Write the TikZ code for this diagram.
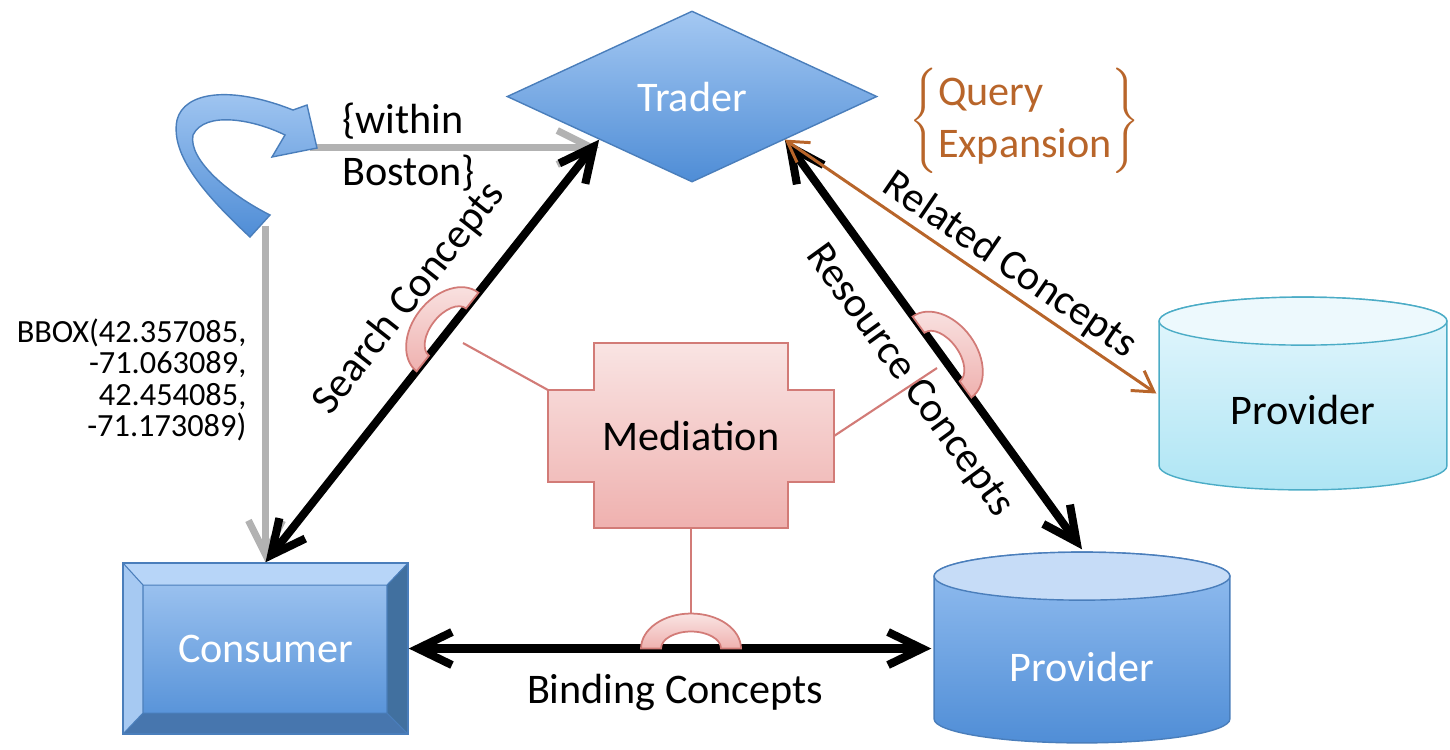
\documentclass[tikz,border=0pt]{standalone}
\usepackage{fontspec}
\setmainfont{Carlito}
\usetikzlibrary{positioning, shapes.geometric, arrows.meta, calc}

\definecolor{blueedge}{HTML}{4A7EBB}
\definecolor{bluetop}{HTML}{A4C8F2}
\definecolor{bluebot}{HTML}{4F8DD6}
\definecolor{bvtop}{HTML}{B7D5F8}
\definecolor{bvleft}{HTML}{A6C9F2}
\definecolor{bvright}{HTML}{41709F}
\definecolor{bvbot}{HTML}{4776AE}
\definecolor{drumtop}{HTML}{96C0F1}
\definecolor{drumlid}{HTML}{C6DCF7}
\definecolor{cyanedge}{HTML}{4BACC6}
\definecolor{cyantop}{HTML}{E6F7FD}
\definecolor{cyanbot}{HTML}{AEE5F4}
\definecolor{cyanlid}{HTML}{EDF9FD}
\definecolor{pinkedge}{HTML}{D27B77}
\definecolor{pinktop}{HTML}{F9E4E3}
\definecolor{pinkbot}{HTML}{EFB1AF}
\definecolor{arrowgray}{HTML}{B2B2B2}
\definecolor{qbrown}{HTML}{B8652A}

% database drum: edge, body top, body bottom, lid
\tikzset{drum/.style n args={4}{minimum width=3cm, minimum height=1.95cm,
  path picture={%
    \draw[#1, top color=#2, bottom color=#3] let
      \p1 = (path picture bounding box.north west),
      \p2 = (path picture bounding box.south east),
      \n1 = {(\x2-\x1)/2-0.6pt}, \n2 = {0.24cm}
      in
        (\x1+0.6pt,\y1-\n2-0.6pt) -- (\x1+0.6pt,\y2+\n2+0.6pt)
        arc[start angle=180, end angle=360, x radius=\n1, y radius=\n2]
        -- (\x2-0.6pt,\y1-\n2-0.6pt)
        arc[start angle=0, end angle=180, x radius=\n1, y radius=\n2];
    \draw[#1, fill=#4] let
      \p1 = (path picture bounding box.north west),
      \p2 = (path picture bounding box.south east),
      \n1 = {(\x2-\x1)/2-0.6pt}, \n2 = {0.24cm}
      in
        (\x1/2+\x2/2,\y1-\n2-0.6pt) ellipse[x radius=\n1, y radius=\n2];
  }}}

\tikzstyle{bevelbox}=[rectangle, draw=blueedge, top color=bluetop, bottom color=bluebot,
  minimum width=2.85cm, minimum height=1.71cm, text=white,
  path picture={%
    \coordinate (o1) at (path picture bounding box.north west);
    \coordinate (o2) at (path picture bounding box.north east);
    \coordinate (o3) at (path picture bounding box.south east);
    \coordinate (o4) at (path picture bounding box.south west);
    \coordinate (i1) at ($(o1)+(0.2,-0.22)$);
    \coordinate (i2) at ($(o2)+(-0.21,-0.22)$);
    \coordinate (i3) at ($(o3)+(-0.21,0.21)$);
    \coordinate (i4) at ($(o4)+(0.2,0.21)$);
    \fill[bvtop] (o1) -- (o2) -- (i2) -- (i1) -- cycle;
    \fill[bvright] (o2) -- (o3) -- (i3) -- (i2) -- cycle;
    \fill[bvbot] (o3) -- (o4) -- (i4) -- (i3) -- cycle;
    \fill[bvleft] (o4) -- (o1) -- (i1) -- (i4) -- cycle;
    \draw[blueedge, line width=0.3pt] (o1) -- (i1) (o2) -- (i2) (o3) -- (i3) (o4) -- (i4) (i1) rectangle (i3);
  }]

\tikzset{socket/.pic={
  \draw[pinkedge, line width=0.5pt, top color=pinktop, bottom color=pinkbot]
    (0.5,0) arc[start angle=0, end angle=180, x radius=0.5, y radius=0.35]
    -- (-0.3,0) arc[start angle=180, end angle=0, x radius=0.3, y radius=0.17] -- cycle;
}}

\begin{document}
\begin{tikzpicture}[font=\fontsize{12}{14.8}\selectfont,
    conc/.style={<->, >={Straight Barb[length=3.4mm, width=3.3mm]}, line width=2.3pt, line cap=round},
    feed/.style={->, >={Straight Barb[length=3.4mm, width=3.4mm]}, line width=2pt, arrowgray},
    rel/.style={<->, >={Straight Barb[length=2mm, width=2.4mm]}, line width=0.85pt, qbrown},
    hook/.style={pinkedge, line width=0.6pt},
    lbl/.style={inner sep=1pt, text=black}]
        \useasboundingbox (0,0) rectangle (14.5,-7.49);

        % TRADER
        \node[diamond, aspect=2.16, minimum width=3.7cm, minimum height=1.71cm, inner sep=0pt,
              draw=blueedge, top color=bluetop, bottom color=bluebot, text=white] (trader) at (6.92,-0.965) {Trader};

        % CONSUMER
        \node[bevelbox] (consumer) at (2.655,-6.485) {Consumer};

        % PROVIDERS
        \node[drum={blueedge}{drumtop}{bluebot}{drumlid},
              label={[text=white, yshift=-1.9mm]center:Provider}] (prov) at (10.82,-6.475) {};
        \node[drum={cyanedge}{cyantop}{cyanbot}{cyanlid}, minimum width=2.92cm, minimum height=1.97cm,
              label={[yshift=-1.65mm]center:Provider}] (extprov) at (13.03,-3.935) {};

        % notes
        \node[text=qbrown] (qexp) at (10.25,-1.21)
          {$\left\{\begin{tabular}{@{}l@{}}Query\\Expansion\end{tabular}\right\}$};
        \node[font=\fontsize{9.2}{8.9}\selectfont, align=right, inner sep=0pt, anchor=east] (bbox)
          at (2.47,-3.80) {BBOX(42.357085,\\-71.063089,\\42.454085,\\-71.173089)};

        \coordinate (turntip) at (3.10,-1.475);
        \coordinate (turntail) at (2.655,-2.26);

        % query feed
        \path[feed]
        (turntip) edge node[lbl, pos=0.10, anchor=west, align=left, inner sep=0pt] {\{within\\Boston\}} (turntip -| trader.south west)
        (turntail) edge (consumer.north);

        % turn arrow
        \draw[blueedge, line width=0.4pt, top color=bluetop, bottom color=bluebot]
          (2.50,-2.37) .. controls (2.05,-1.95) and (1.70,-1.55) .. (1.77,-1.20)
          .. controls (1.84,-0.92) and (2.30,-0.85) .. (2.93,-1.10)
          -- (3.07,-1.05) -- (3.17,-1.48) -- (2.72,-1.57) -- (2.85,-1.35)
          .. controls (2.55,-1.20) and (2.05,-1.10) .. (1.93,-1.35)
          .. controls (1.88,-1.60) and (2.30,-1.95) .. (2.70,-2.15) -- cycle;

        % concepts
        \path[conc]
        (consumer.north) edge node[lbl, sloped, above=0.25cm, pos=0.55] {Search Concepts} (trader.south west)
        (trader.south east) edge node[lbl, sloped, below=0.165cm, pos=0.53] {Resource Concepts} (prov.north)
        (consumer.east) edge node[lbl, below=0.18cm, pos=0.51] {Binding Concepts} (consumer.east -| prov.west);

        \path[rel]
        (trader.south east) edge node[lbl, sloped, above=0pt, pos=0.57] {Related Concepts} (extprov.west);

        % MEDIATION
        \draw[pinkedge, line width=0.6pt, top color=pinktop, bottom color=pinkbot]
          (5.48,-3.90) coordinate (medNW) -| (5.94,-3.43) -| (7.88,-3.90) -| (8.34,-4.82)
          -| (7.88,-5.28) -| (5.94,-4.82) -| (5.48,-3.90) -- cycle;
        \coordinate (medE) at (8.34,-4.36);
        \node[minimum width=1.94cm, minimum height=1.85cm] (med) at (6.91,-4.355) {Mediation};

        \coordinate (lhook) at (4.63,-3.43);
        \coordinate (rhook) at (9.37,-3.68);
        \coordinate (bhook) at (6.91,-6.135);
        \draw[hook] (medNW) -- (lhook);
        \draw[hook] (medE) -- (rhook);
        \draw[hook] (med.south) -- (bhook);

        \pic[rotate=51.8] at (4.475,-3.32) {socket};
        \pic[rotate=-54] at (9.42,-3.57) {socket};
        \pic at (6.91,-6.485) {socket};
\end{tikzpicture}
\end{document}
